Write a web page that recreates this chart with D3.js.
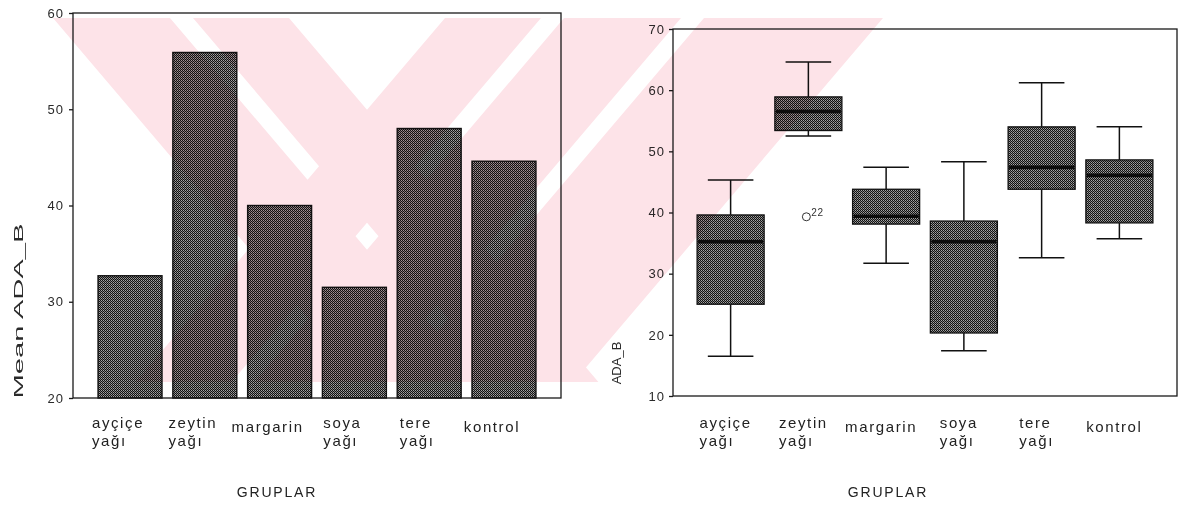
<!DOCTYPE html>
<html>
<head>
<meta charset="utf-8">
<script src="https://cdn.jsdelivr.net/npm/d3@7"></script>
<style>
  body { margin: 0; background: #fff; }
  svg { display: block; font-family: "Liberation Sans", Arial, sans-serif; }
</style>
</head>
<body>
<svg id="chart" width="1181" height="508"></svg>
<script>
// Groups and their wrapped axis labels
const groups = ["ayçiçek yağı", "zeytin yağı", "margarin", "soya yağı", "tere yağı", "kontrol"];
const groupLines = [["ayçiçe", "yağı"], ["zeytin", "yağı"], ["margarin"], ["soya", "yağı"], ["tere", "yağı"], ["kontrol"]];

// Mean ADA_B per group (bar chart)
const meanValues = [32.7, 55.9, 40.0, 31.5, 48.0, 44.6];

// ADA_B distribution per group (box plot)
const boxLow    = [16.5, 52.5, 31.7, 17.4, 32.6, 35.7];
const boxQ1     = [25.0, 53.4, 38.1, 20.3, 43.8, 38.3];
const boxMedian = [35.2, 56.5, 39.4, 35.2, 47.4, 46.1];
const boxQ3     = [39.6, 58.9, 43.8, 38.6, 54.0, 48.6];
const boxHigh   = [45.3, 64.6, 47.4, 48.3, 61.2, 54.0];

// Outlying cases
const outlierGroup = ["zeytin yağı"];
const outlierValue = [39.3];
const outlierCase  = ["22"];

// Axis ticks
const barTicks = [20, 30, 40, 50, 60];
const boxTicks = [10, 20, 30, 40, 50, 60, 70];

const svg = d3.select("#chart");
const ink = "#1a1a1a";

// Dithered grey fill used for bars and boxes
const defs = svg.append("defs");
const pat = defs.append("pattern")
  .attr("id", "dither").attr("width", 2).attr("height", 2)
  .attr("patternUnits", "userSpaceOnUse");
pat.append("rect").attr("width", 2).attr("height", 2).attr("fill", "#7a7a7a");
pat.append("rect").attr("x", 0).attr("y", 0).attr("width", 1).attr("height", 1).attr("fill", "#101010");
pat.append("rect").attr("x", 1).attr("y", 1).attr("width", 1).attr("height", 1).attr("fill", "#101010");
pat.append("rect").attr("x", 1).attr("y", 0).attr("width", 1).attr("height", 1).attr("fill", "#a4a4a4");

function styleTicks(g, size) {
  g.select(".domain").remove();
  g.selectAll(".tick line").attr("stroke", ink).attr("stroke-width", 1.3);
  g.selectAll(".tick text")
    .attr("fill", "#2a2a2a")
    .style("font-size", size + "px")
    .style("letter-spacing", "1px")
    .style("font-family", "'Liberation Sans', Arial, sans-serif");
}

function categoryLabels(x, offset, firstBaseline, singleBaseline) {
  const g = svg.append("g");
  groups.forEach((grp, i) => {
    const lines = groupLines[i];
    const t = g.append("text")
      .attr("fill", "#222")
      .style("font-size", "15px")
      .style("letter-spacing", "1.6px");
    lines.forEach((ln, j) => {
      t.append("tspan")
        .attr("y", lines.length === 1 ? singleBaseline : firstBaseline + j * 18)
        .text(ln);
    });
    let w = 0;
    t.selectAll("tspan").each(function () { w = Math.max(w, this.getComputedTextLength()); });
    const x0 = x(grp) + x.bandwidth() / 2 + offset - w / 2;
    t.selectAll("tspan").attr("x", x0);
  });
}

function axisTitle(x0, y0, text, size, length) {
  const t = svg.append("text")
    .attr("transform", `translate(${x0},${y0}) rotate(-90)`)
    .attr("text-anchor", "middle")
    .attr("fill", "#2a2a2a")
    .style("font-size", size + "px")
    .text(text);
  if (length) t.attr("textLength", length).attr("lengthAdjust", "spacingAndGlyphs");
}

// ---------- Left: mean bar chart ----------
const L = { left: 73, right: 561, top: 13, bottom: 398 };
const xL = d3.scaleBand().domain(groups).range([L.left, L.right])
  .paddingInner(0.145).paddingOuter(0.335);
const yL = d3.scaleLinear().domain([20, 60]).range([L.bottom, L.top]);

svg.append("g").selectAll("rect").data(groups).join("rect")
  .attr("x", d => xL(d))
  .attr("y", (d, i) => yL(meanValues[i]))
  .attr("width", xL.bandwidth())
  .attr("height", (d, i) => yL(20) - yL(meanValues[i]))
  .attr("fill", "url(#dither)")
  .attr("stroke", "#111").attr("stroke-width", 1.4);

svg.append("rect")
  .attr("x", L.left).attr("y", L.top)
  .attr("width", L.right - L.left).attr("height", L.bottom - L.top)
  .attr("fill", "none").attr("stroke", ink).attr("stroke-width", 1.3);

svg.append("g").attr("transform", `translate(${L.left},0)`)
  .call(d3.axisLeft(yL).tickValues(barTicks).tickSize(4).tickPadding(5))
  .call(g => styleTicks(g, 13));

axisTitle(23, 311, "Mean  ADA_B", 13, 175);
categoryLabels(xL, -12, 428, 432);
svg.append("text")
  .attr("x", (L.left + L.right) / 2 - 40).attr("y", 497)
  .attr("text-anchor", "middle").attr("fill", "#222")
  .style("font-size", "14px").style("letter-spacing", "1.8px")
  .text("GRUPLAR");

// ---------- Right: box plot ----------
const R = { left: 673, right: 1177, top: 29, bottom: 396 };
const xR = d3.scaleBand().domain(groups).range([R.left, R.right])
  .paddingInner(0.138).paddingOuter(0.31);
const yR = d3.scaleLinear().domain([10, 70]).range([R.bottom, R.top]);

const boxes = svg.append("g").selectAll("g").data(groups).join("g");
const cx = d => xR(d) + xR.bandwidth() / 2;
const capHalf = xR.bandwidth() * 0.34;

boxes.append("line")
  .attr("x1", cx).attr("x2", cx)
  .attr("y1", (d, i) => yR(boxHigh[i])).attr("y2", (d, i) => yR(boxQ3[i]))
  .attr("stroke", "#111").attr("stroke-width", 1.5);
boxes.append("line")
  .attr("x1", cx).attr("x2", cx)
  .attr("y1", (d, i) => yR(boxQ1[i])).attr("y2", (d, i) => yR(boxLow[i]))
  .attr("stroke", "#111").attr("stroke-width", 1.5);
boxes.append("line")
  .attr("x1", d => cx(d) - capHalf).attr("x2", d => cx(d) + capHalf)
  .attr("y1", (d, i) => yR(boxHigh[i])).attr("y2", (d, i) => yR(boxHigh[i]))
  .attr("stroke", "#111").attr("stroke-width", 1.5);
boxes.append("line")
  .attr("x1", d => cx(d) - capHalf).attr("x2", d => cx(d) + capHalf)
  .attr("y1", (d, i) => yR(boxLow[i])).attr("y2", (d, i) => yR(boxLow[i]))
  .attr("stroke", "#111").attr("stroke-width", 1.5);
boxes.append("rect")
  .attr("x", d => xR(d))
  .attr("y", (d, i) => yR(boxQ3[i]))
  .attr("width", xR.bandwidth())
  .attr("height", (d, i) => yR(boxQ1[i]) - yR(boxQ3[i]))
  .attr("fill", "url(#dither)")
  .attr("stroke", "#111").attr("stroke-width", 1.3);
boxes.append("line")
  .attr("x1", d => xR(d) + 1).attr("x2", d => xR(d) + xR.bandwidth() - 1)
  .attr("y1", (d, i) => yR(boxMedian[i])).attr("y2", (d, i) => yR(boxMedian[i]))
  .attr("stroke", "#0d0d0d").attr("stroke-width", 3.5);

// outliers: open circle with the case number
outlierGroup.forEach((grp, i) => {
  svg.append("circle")
    .attr("cx", cx(grp) - 2).attr("cy", yR(outlierValue[i]))
    .attr("r", 4).attr("fill", "none").attr("stroke", "#333").attr("stroke-width", 1);
  svg.append("text")
    .attr("x", cx(grp) + 3).attr("y", yR(outlierValue[i]) - 1)
    .attr("fill", "#333").style("font-size", "10px").style("letter-spacing", "0.5px")
    .text(outlierCase[i]);
});

svg.append("rect")
  .attr("x", R.left).attr("y", R.top)
  .attr("width", R.right - R.left).attr("height", R.bottom - R.top)
  .attr("fill", "none").attr("stroke", ink).attr("stroke-width", 1.3);

svg.append("g").attr("transform", `translate(${R.left},0)`)
  .call(d3.axisLeft(yR).tickValues(boxTicks).tickSize(4).tickPadding(4))
  .call(g => styleTicks(g, 13));

axisTitle(621, 363, "ADA_B", 13);
categoryLabels(xR, -5, 428, 432);
svg.append("text")
  .attr("x", (R.left + R.right) / 2 - 37).attr("y", 497)
  .attr("text-anchor", "middle").attr("fill", "#222")
  .style("font-size", "14px").style("letter-spacing", "1.8px")
  .text("GRUPLAR");

// ---------- Page watermark: pale diagonal stripes, multiplied over the page ----------
const wm = { left: 51, right: 1000, top: 18, bottom: 382, slope: 0.85 };
const wmBack = [[53, 170], [193, 289]];             // "\" stripes, x-span along the top edge
const wmFwd  = [[445, 541], [564, 681], [704, 883]]; // "/" stripes, x-span along the top edge
defs.append("clipPath").attr("id", "wmClip")
  .append("rect").attr("x", wm.left).attr("y", wm.top)
  .attr("width", wm.right - wm.left).attr("height", wm.bottom - wm.top);
const wmLayer = svg.append("g")
  .attr("clip-path", "url(#wmClip)")
  .style("mix-blend-mode", "multiply")
  .attr("fill", "#fde3e8");
const dx = (wm.bottom - wm.top) * wm.slope;
const stripe = (a, b, dir) => {
  const s = dir * dx;
  return `M${a},${wm.top}L${b},${wm.top}L${b + s},${wm.bottom}L${a + s},${wm.bottom}Z`;
};
const wmPath = wmBack.map(([a, b]) => stripe(a, b, 1))
  .concat(wmFwd.map(([a, b]) => stripe(a, b, -1))).join("");
wmLayer.append("path").attr("d", wmPath).attr("fill-rule", "nonzero");
</script>
</body>
</html>
